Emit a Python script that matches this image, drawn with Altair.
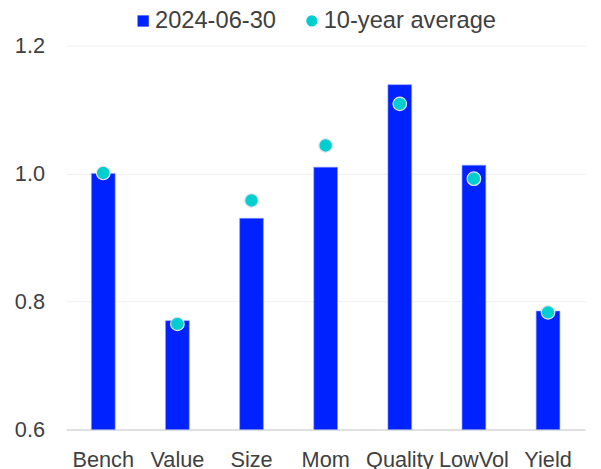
import altair as alt
import pandas as pd

categories = ["Bench", "Value", "Size", "Mom", "Quality", "LowVol", "Yield"]
current = [1.000, 0.770, 0.930, 1.010, 1.139, 1.013, 0.785]
avg10 = [1.001, 0.765, 0.958, 1.044, 1.109, 0.992, 0.783]
series_names = ["2024-06-30", "10-year average"]
y_ticks = [0.6, 0.8, 1.0, 1.2]

bar_df = pd.DataFrame({"cat": categories, "value": current, "series": series_names[0]})
pt_df = pd.DataFrame({"cat": categories, "value": avg10, "series": series_names[1]})

FONT = "Liberation Sans"
TXT = "#404040"

color_scale = alt.Scale(domain=series_names, range=["#0022FF", "#00CED1"])
shape_scale = alt.Scale(domain=series_names, range=["square", "circle"])

x_enc = alt.X("cat:N", sort=categories, title=None,
              scale=alt.Scale(paddingInner=0.68, paddingOuter=0.34),
              axis=alt.Axis(labelAngle=0, ticks=False, domain=True, domainColor="#d9d9d9",
                            domainWidth=1.5, labelFontSize=22, labelFont=FONT, labelColor=TXT,
                            labelPadding=21, grid=False))
y_enc = alt.Y("value:Q", title=None,
              scale=alt.Scale(domain=[0.6, 1.2], zero=False, nice=False),
              axis=alt.Axis(values=y_ticks, format=".1f", ticks=False, domain=False,
                            grid=True, gridColor="#efefef", gridWidth=1,
                            labelFontSize=22, labelFont=FONT, labelColor=TXT, labelPadding=22))

legend = alt.Legend(title=None, orient="none", legendX=66, legendY=-37, direction="horizontal",
                    labelFontSize=24, labelFont=FONT, labelColor=TXT, symbolSize=130,
                    labelOffset=0, columnPadding=24, padding=0, symbolStrokeWidth=0,
                    labelLimit=400)

bars = alt.Chart(bar_df).mark_bar(stroke="#8a98ff", strokeWidth=0.6, clip=True).encode(
    x=x_enc,
    y=y_enc,
    color=alt.Color("series:N", scale=color_scale, legend=legend),
    shape=alt.Shape("series:N", scale=shape_scale, legend=legend),
)

points = alt.Chart(pt_df).mark_point(filled=True, size=190, opacity=1,
                                     stroke="#e6e6e6", strokeWidth=1.2).encode(
    x=alt.X("cat:N", sort=categories),
    y=alt.Y("value:Q"),
    color=alt.Color("series:N", scale=color_scale, legend=legend),
    shape=alt.Shape("series:N", scale=shape_scale, legend=legend),
)

chart = alt.layer(bars, points).properties(
    width=526, height=389,
    background="white",
    autosize=alt.AutoSizeParams(type="none"),
    padding={"left": 59, "top": 35, "right": 8, "bottom": 40},
).configure_view(strokeWidth=0, stroke="transparent")

chart.save("out.html", embed_options={"renderer": "svg", "actions": False})
